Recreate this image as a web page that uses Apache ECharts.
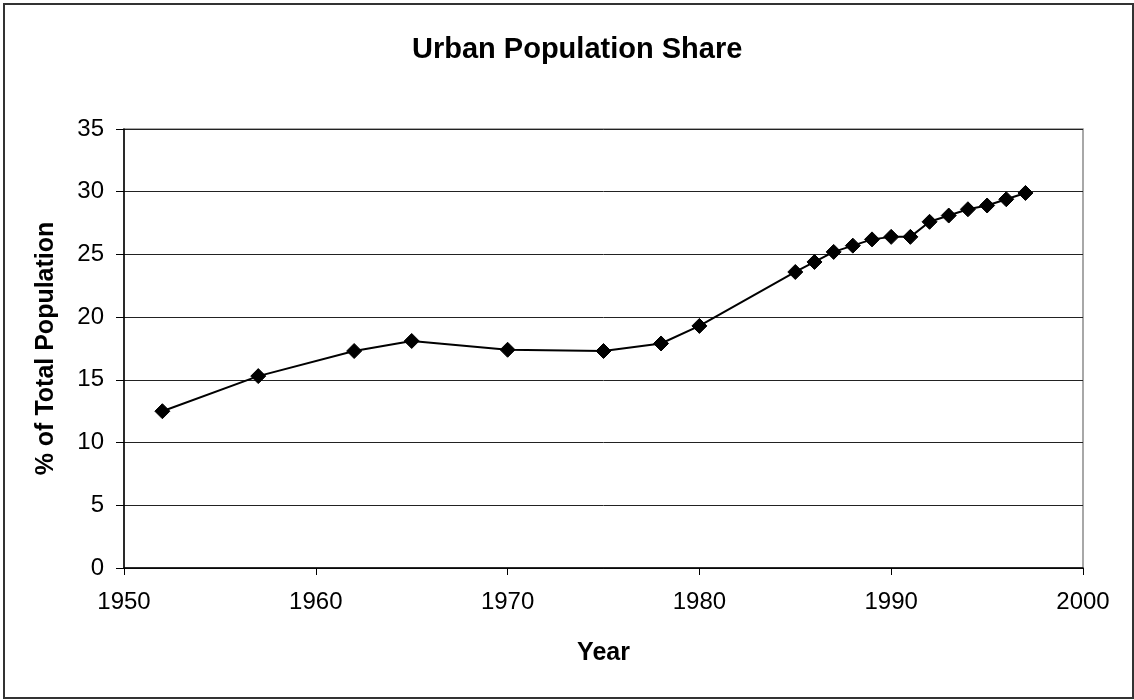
<!DOCTYPE html>
<html>
<head>
<meta charset="utf-8">
<title>Urban Population Share</title>
<script src="https://cdn.jsdelivr.net/npm/echarts@6/dist/echarts.min.js"></script>
<style>
  html, body { margin: 0; padding: 0; background: #fff; }
  #chart { width: 1134px; height: 700px; }
</style>
</head>
<body>
<div id="chart"></div>
<script>
// Urban population as a share of total population, by year
const years = [1952, 1957, 1962, 1965, 1970, 1975, 1978, 1980, 1985, 1986, 1987,
               1988, 1989, 1990, 1991, 1992, 1993, 1994, 1995, 1996, 1997];
const sharePct = [12.5, 15.3, 17.3, 18.1, 17.4, 17.3, 17.9, 19.3, 23.6, 24.4, 25.2,
                  25.7, 26.2, 26.4, 26.4, 27.6, 28.1, 28.6, 28.9, 29.4, 29.9];
const yTicks = [0, 5, 10, 15, 20, 25, 30, 35];
const xTicks = [1950, 1960, 1970, 1980, 1990, 2000];

const points = years.map((y, i) => [y, sharePct[i]]);
const font = '"Liberation Sans", Arial, sans-serif';

const chart = echarts.init(document.getElementById('chart'), null, { renderer: 'canvas' });
chart.setOption({
  backgroundColor: '#fff',
  animation: false,
  title: {
    text: 'Urban Population Share',
    left: 407,
    top: 30,
    textStyle: { fontFamily: font, fontSize: 29, fontWeight: 'bold', color: '#000' }
  },
  graphic: [{
    type: 'rect',
    shape: { x: 4, y: 4, width: 1129, height: 694 },
    style: { fill: 'none', stroke: '#333', lineWidth: 2 },
    silent: true,
    z: -1
  }],
  grid: {
    left: 124, right: 51, top: 129, bottom: 132,
    show: true, borderColor: '#8c8c8c', borderWidth: 1.5, backgroundColor: 'transparent'
  },
  xAxis: {
    type: 'value',
    min: xTicks[0], max: xTicks[xTicks.length - 1], interval: 10,
    name: 'Year',
    nameLocation: 'middle',
    nameGap: 73,
    nameTextStyle: { fontFamily: font, fontSize: 25, fontWeight: 'bold', color: '#000' },
    axisLine: { show: true, onZero: false, lineStyle: { color: '#000', width: 1.5 } },
    axisTick: { show: true, inside: false, length: 7, lineStyle: { color: '#000', width: 1 } },
    axisLabel: { margin: 22, fontFamily: font, fontSize: 24, color: '#000',
                 formatter: v => String(v) },
    splitLine: { show: false }
  },
  yAxis: {
    type: 'value',
    min: yTicks[0], max: yTicks[yTicks.length - 1], interval: 5,
    name: '% of Total Population',
    nameLocation: 'middle',
    nameGap: 65,
    nameRotate: 90,
    nameTextStyle: { fontFamily: font, fontSize: 25, fontWeight: 'bold', color: '#000' },
    axisLine: { show: true, lineStyle: { color: '#000', width: 1.5 } },
    axisTick: { show: true, inside: false, length: 8, lineStyle: { color: '#000', width: 1 } },
    axisLabel: { margin: 20, fontFamily: font, fontSize: 24, color: '#000' },
    splitLine: { show: true, lineStyle: { color: '#222', width: 1 } }
  },
  series: [{
    type: 'line',
    data: points,
    symbol: 'diamond',
    symbolSize: 15,
    showAllSymbol: true,
    lineStyle: { color: '#000', width: 2 },
    itemStyle: { color: '#000', borderColor: '#000' },
    emphasis: { disabled: true }
  }]
});
</script>
</body>
</html>
